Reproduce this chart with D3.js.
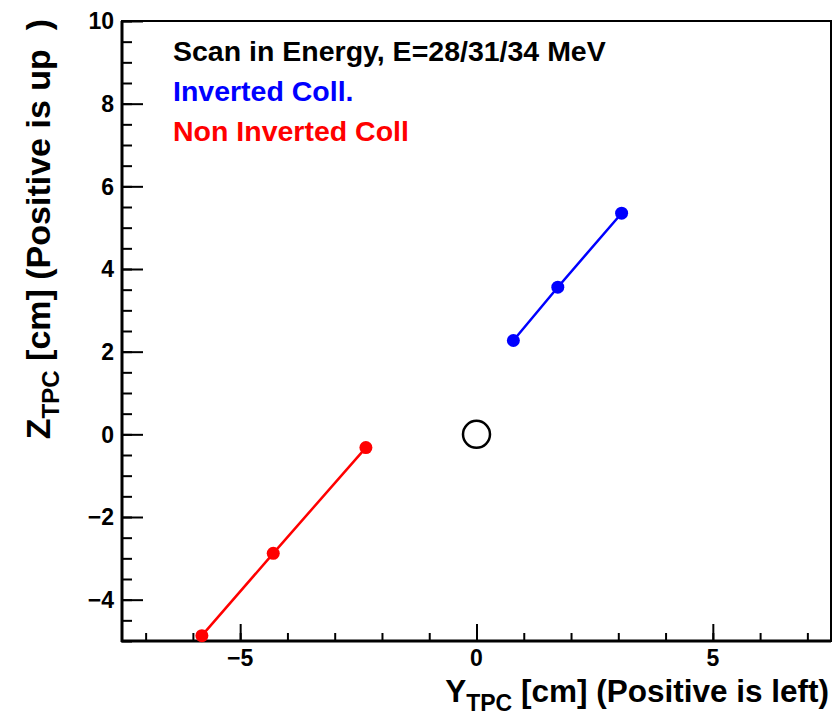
<!DOCTYPE html>
<html lang="en">
<head>
    <meta charset="UTF-8">
    <title>Scan in Energy</title>
    <script src="https://d3js.org/d3.v7.min.js"></script>
    <style>
        * {
            margin: 0;
            padding: 0;
            box-sizing: border-box;
        }

        html, body {
            width: 835px;
            height: 719px;
            overflow: clip;
            background: white;
        }

        svg {
            font-family: "Liberation Sans", Arial, Helvetica, sans-serif;
            font-weight: bold;
        }
    </style>
</head>
<body>
<svg id="chart" width="835" height="719"></svg>
<script>
    // data (Y_TPC, Z_TPC in cm)
    const invertedY = [ 0.78, 1.72, 3.07 ]
    const invertedZ = [ 2.27, 3.56, 5.35 ]
    const nonInvertedY = [ -5.81, -4.30, -2.34 ]
    const nonInvertedZ = [ -4.87, -2.88, -0.32 ]
    const nominal = [ 0, 0 ]

    const legendLines = [ "Scan in Energy, E=28/31/34 MeV", "Inverted Coll.", "Non Inverted Coll" ]
    const legendColors = [ "#000", "#0000ff", "#ff0000" ]

    const xMajorTicks = [ -5, 0, 5 ]
    const xMinorTicks = d3.range(-7, 8, 1)
    const yMajorTicks = [ -4, -2, 0, 2, 4, 6, 8, 10 ]
    const yMinorTicks = d3.range(-5, 10.01, 0.5)

    const frameL = 122, frameR = 831, frameT = 21, frameB = 641

    const x = d3.scaleLinear().domain([ -7.5, 7.5 ]).range([ frameL, frameR ])
    const y = d3.scaleLinear().domain([ -5, 10 ]).range([ frameB, frameT ])

    const $svg = d3.select("#chart")

    // frame
    $svg.append("rect")
        .attr("x", frameL).attr("y", frameT)
        .attr("width", frameR - frameL).attr("height", frameB - frameT)
        .attr("fill", "none").attr("stroke", "#000").attr("stroke-width", 2)

    const fmt = d3.format("d")

    // y axis: ticks on the inside
    const $yAxis = $svg.append("g").attr("transform", `translate(${frameL},0)`)
    $yAxis.call(d3.axisRight(y).tickValues(yMinorTicks).tickSize(10).tickFormat(""))
    $yAxis.append("g").call(d3.axisRight(y).tickValues(yMajorTicks).tickSize(21).tickFormat(""))
    $yAxis.selectAll(".domain").remove()
    $yAxis.selectAll("line").attr("stroke", "#000").attr("stroke-width", 2)
    $svg.append("g").selectAll("text")
        .data(yMajorTicks)
        .join("text")
        .attr("x", frameL - 8)
        .attr("y", d => y(d))
        .attr("dy", "0.36em")
        .attr("text-anchor", "end")
        .attr("font-size", 23)
        .text(fmt)

    // x axis: ticks pointing up
    const $xAxis = $svg.append("g").attr("transform", `translate(0,${frameB})`)
    $xAxis.call(d3.axisTop(x).tickValues(xMinorTicks).tickSize(8).tickFormat(""))
    $xAxis.append("g").call(d3.axisTop(x).tickValues(xMajorTicks).tickSize(17).tickFormat(""))
    $xAxis.selectAll(".domain").remove()
    $xAxis.selectAll("line").attr("stroke", "#000").attr("stroke-width", 2)
    $svg.append("g").selectAll("text")
        .data(xMajorTicks)
        .join("text")
        .attr("x", d => x(d))
        .attr("y", frameB + 25)
        .attr("text-anchor", "middle")
        .attr("font-size", 23)
        .text(fmt)

    // axis lines drawn thicker over the frame
    $svg.append("line")
        .attr("x1", frameL).attr("x2", frameL).attr("y1", frameT).attr("y2", frameB + 1)
        .attr("stroke", "#000").attr("stroke-width", 3)
    $svg.append("line")
        .attr("x1", frameL - 1).attr("x2", frameR).attr("y1", frameB).attr("y2", frameB)
        .attr("stroke", "#000").attr("stroke-width", 3)

    // axis titles
    const xTitle = $svg.append("text")
        .attr("x", frameR - 2).attr("y", 702)
        .attr("text-anchor", "end")
        .attr("font-size", 31.5)
    xTitle.append("tspan").text("Y")
    xTitle.append("tspan").attr("dy", 9).attr("font-size", 23).text("TPC")
    xTitle.append("tspan").attr("dy", -9).text(" [cm] (Positive is left)")

    const yTitle = $svg.append("text")
        .attr("transform", `translate(50,${frameT - 2}) rotate(-90)`)
        .attr("text-anchor", "end")
        .attr("font-size", 34)
        .attr("xml:space", "preserve")
    yTitle.append("tspan").text("Z")
    yTitle.append("tspan").attr("dy", 9).attr("font-size", 24).text("TPC")
    yTitle.append("tspan").attr("dy", -9).text(" [cm] (Positive is up  )")

    // legend text
    $svg.append("g").selectAll("text")
        .data(legendLines)
        .join("text")
        .attr("x", 173)
        .attr("y", (_, i) => 61 + i * 40)
        .attr("font-size", 28.5)
        .attr("fill", (_, i) => legendColors[i])
        .text(d => d)

    // series
    const series = [
        { color: "#0000ff", pts: invertedY.map((v, i) => [ v, invertedZ[i] ]) },
        { color: "#ff0000", pts: nonInvertedY.map((v, i) => [ v, nonInvertedZ[i] ]) },
    ]
    const line = d3.line().x(d => x(d[0])).y(d => y(d[1]))
    series.forEach(s => {
        $svg.append("path")
            .attr("d", line(s.pts))
            .attr("fill", "none")
            .attr("stroke", s.color)
            .attr("stroke-width", 2.5)
        $svg.append("g").selectAll("circle")
            .data(s.pts)
            .join("circle")
            .attr("cx", d => x(d[0]))
            .attr("cy", d => y(d[1]))
            .attr("r", 6.5)
            .attr("fill", s.color)
    })

    // nominal position
    $svg.append("circle")
        .attr("cx", x(nominal[0]))
        .attr("cy", y(nominal[1]))
        .attr("r", 13.5)
        .attr("fill", "none")
        .attr("stroke", "#000")
        .attr("stroke-width", 2.5)
</script>
</body>
</html>
